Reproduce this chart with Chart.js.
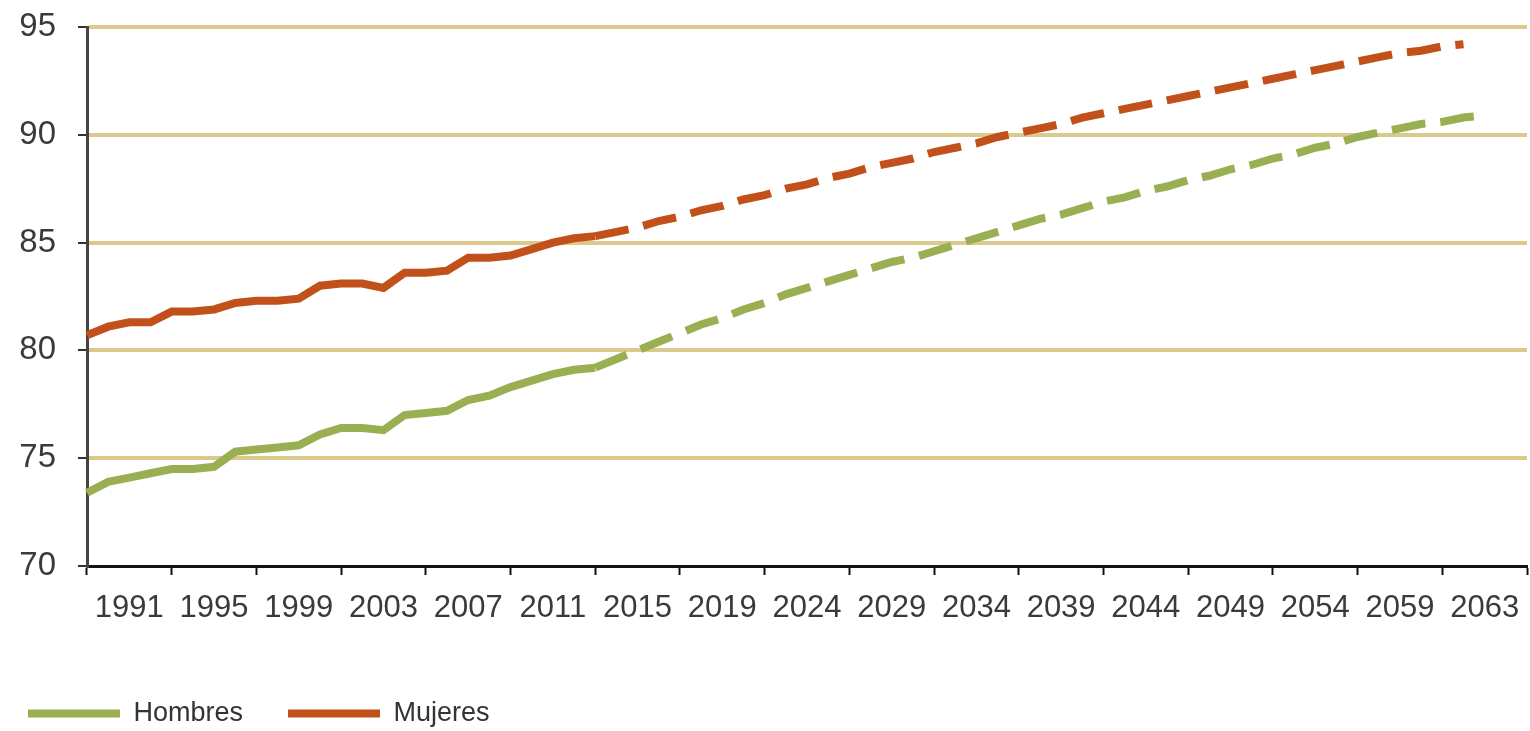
<!DOCTYPE html>
<html>
<head>
<meta charset="utf-8">
<title>Esperanza de vida</title>
<script src="https://cdn.jsdelivr.net/npm/chart.js@4.4.1/dist/chart.umd.min.js"></script>
<style>
  html, body { margin: 0; padding: 0; background: #fff; }
  #wrap { width: 1530px; height: 731px; }
</style>
</head>
<body>
<div id="wrap"><canvas id="chart" width="1530" height="731"></canvas></div>
<script>
// Axis labels shown under the chart (one per group of 4 points)
var tickLabels = ["1991", "1995", "1999", "2003", "2007", "2011", "2015", "2019", "2024",
  "2029", "2034", "2039", "2044", "2049", "2054", "2059", "2063"];

// last observed point, the rest is projection (dashed)
var lastObserved = 24;

var hombres = [
  73.4, 73.9, 74.1, 74.3, 74.5, 74.5, 74.6, 75.3, 75.4, 75.5, 75.6, 76.1, 76.4, 76.4, 76.3,
  77.0, 77.1, 77.2, 77.7, 77.9, 78.3, 78.6, 78.9, 79.1, 79.2,
  79.6, 80.0, 80.4, 80.8, 81.2, 81.5, 81.9, 82.2, 82.6, 82.9, 83.2, 83.5, 83.8, 84.1, 84.3,
  84.6, 84.9, 85.2, 85.5, 85.8, 86.1, 86.3, 86.6, 86.9, 87.1, 87.4, 87.6, 87.9, 88.1, 88.4,
  88.6, 88.9, 89.1, 89.4, 89.6, 89.9, 90.1, 90.3, 90.5, 90.6, 90.8, 90.9, null, null
];

var mujeres = [
  80.7, 81.1, 81.3, 81.3, 81.8, 81.8, 81.9, 82.2, 82.3, 82.3, 82.4, 83.0, 83.1, 83.1, 82.9,
  83.6, 83.6, 83.7, 84.3, 84.3, 84.4, 84.7, 85.0, 85.2, 85.3,
  85.5, 85.7, 86.0, 86.2, 86.5, 86.7, 87.0, 87.2, 87.5, 87.7, 88.0, 88.2, 88.5, 88.7, 88.9,
  89.2, 89.4, 89.6, 89.9, 90.1, 90.3, 90.5, 90.8, 91.0, 91.2, 91.4, 91.6, 91.8, 92.0, 92.2,
  92.4, 92.6, 92.8, 93.0, 93.2, 93.4, 93.6, 93.8, 93.9, 94.1, 94.2, null, null, null
];

// one slot per point, named after the group it belongs to
var slots = [];
for (var i = 0; i < hombres.length; i++) {
  slots.push(i % 4 === 0 && tickLabels[i / 4] ? tickLabels[i / 4] : "");
}

var green = "#9aae52";
var orange = "#c2501a";
var dash = [34, 15];

function projDash(ctx) {
  return ctx.p0DataIndex >= lastObserved ? dash : undefined;
}

// nudge the legend a bit left/down, like the original
var legendShift = {
  id: "legendShift",
  afterLayout: function (chart) {
    chart.legend.left -= 17;
    chart.legend.top += 6;
  },
};

var ctx = document.getElementById("chart").getContext("2d");
var myChart = new Chart(ctx, {
  type: "line",
  data: {
    labels: slots,
    datasets: [
      {
        label: "Hombres",
        data: hombres,
        borderColor: green,
        backgroundColor: green,
        borderWidth: 8,
        borderCapStyle: "butt",
        pointRadius: 0,
        tension: 0,
        segment: { borderDash: projDash },
      },
      {
        label: "Mujeres",
        data: mujeres,
        borderColor: orange,
        backgroundColor: orange,
        borderWidth: 8,
        borderCapStyle: "butt",
        pointRadius: 0,
        tension: 0,
        segment: { borderDash: projDash },
      },
    ],
  },
  options: {
    responsive: false,
    animation: false,
    layout: { padding: { left: 0, right: 3, top: 27, bottom: 0 } },
    scales: {
      x: {
        type: "category",
        display: false,
        offset: false,
      },
      xTicks: {
        type: "category",
        position: "bottom",
        labels: tickLabels,
        offset: true,
        grid: {
          offset: true,
          drawOnChartArea: false,
          tickLength: 9,
          tickColor: "#111",
          tickWidth: 2,
        },
        border: { color: "#111", width: 3 },
        ticks: {
          autoSkip: false,
          maxRotation: 0,
          padding: 15,
          color: "#3a3a3a",
          font: { family: "'Liberation Sans', Arial, sans-serif", size: 31 },
        },
        afterFit: function (scale) {
          scale.height = 83;
          scale.paddingLeft = 0;
          scale.paddingRight = 0;
        },
      },
      y: {
        min: 70,
        max: 95,
        ticks: {
          stepSize: 5,
          padding: 22,
          color: "#3a3a3a",
          font: { family: "'Liberation Sans', Arial, sans-serif", size: 33 },
        },
        grid: {
          color: function (c) {
            return c.tick && c.tick.value === 70 ? "rgba(0,0,0,0)" : "#dbca8e";
          },
          lineWidth: 4,
          tickLength: 9,
          tickColor: "#333",
          tickWidth: 2,
        },
        border: { color: "#444", width: 3 },
        afterFit: function (scale) {
          scale.width = 87;
          scale.paddingTop = 0;
          scale.paddingBottom = 0;
        },
      },
    },
    plugins: {
      legend: {
        position: "bottom",
        align: "start",
        labels: {
          usePointStyle: true,
          pointStyle: "line",
          pointStyleWidth: 92,
          padding: 45,
          color: "#333",
          font: { family: "'Liberation Sans', Arial, sans-serif", size: 27 },
        },
      },
      tooltip: { enabled: false },
    },
  },
  plugins: [legendShift],
});
</script>
</body>
</html>
